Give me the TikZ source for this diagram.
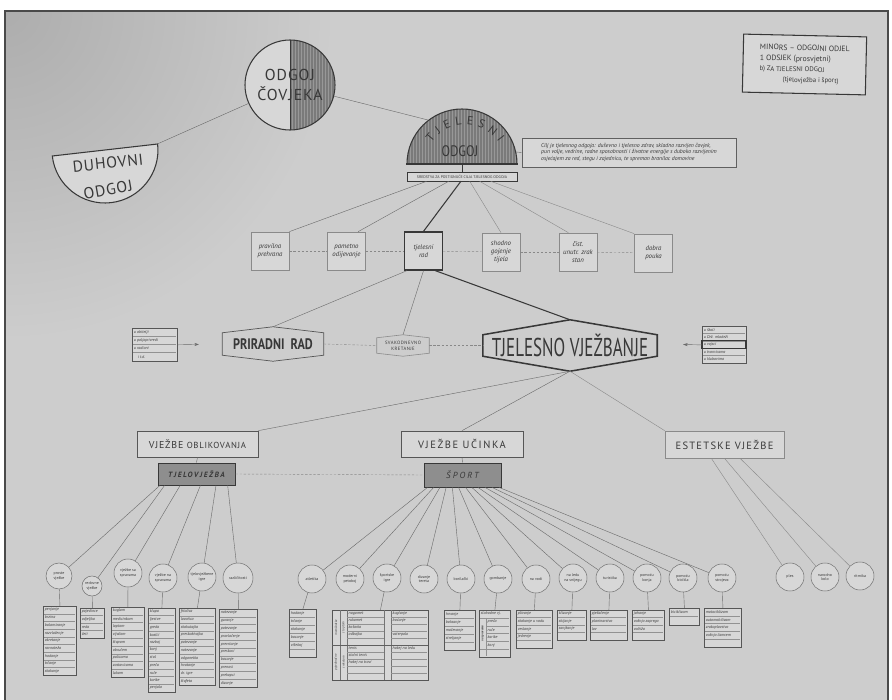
\documentclass[tikz,border=0pt]{standalone}
\usepackage{fontspec}
\setmainfont{PT Sans}
\usepackage{graphicx}
\usetikzlibrary{calc,arrows.meta,decorations.text}

\definecolor{bg}{HTML}{CDCDCD}
\definecolor{bgdark}{HTML}{ADADAD}
\definecolor{paper}{HTML}{D7D7D7}
\definecolor{ink}{HTML}{383838}
\definecolor{lightink}{HTML}{8A8A8A}
\definecolor{gfill}{HTML}{8E8E8E}
\definecolor{hfill}{HTML}{989898}
\definecolor{hatchc}{HTML}{7A7A7A}
\definecolor{framec}{HTML}{4A4A4A}

\newcommand{\pxu}{0.3mm}
\newcommand{\fsz}[2]{\fontsize{#1}{#2}\selectfont}
\newcommand{\hexpath}[3]{\draw[#3] ([yshift=-#2]#1.north west) -- (#1.north) -- ([yshift=-#2]#1.north east) -- ([yshift=#2]#1.south east) -- (#1.south) -- ([yshift=#2]#1.south west) -- cycle;}
\newcommand{\circn}[5]{\node[cnode, minimum size={2*#4*\pxu}] (#1) at (#2,#3) {#5};}
\newcommand{\listbx}[7]{%
  \node[lbx, anchor=north west, minimum width={#4*\pxu}, minimum height={#5*#6*\pxu}] (#1) at (#2,#3) {};
  \pgfmathtruncatemacro\lbn{#5-1}%
  \foreach \ri in {1,...,\lbn} {\draw[lrow] (#2+1,#3+\ri*#6) -- (#2+#4-1,#3+\ri*#6);}
  \foreach \itm [count=\ti] in {#7} {\node[ltx, anchor=west] (#1t\ti) at (#2+1.6,#3+\ti*#6-0.5*#6) {\itm};}
}

\tikzset{
  conn/.style={draw=ink!75, line width=0.35pt},
  connl/.style={draw=lightink, line width=0.35pt},
  thickconn/.style={draw=ink, line width=0.9pt},
  dashconn/.style={draw=ink!60, line width=0.35pt, dash pattern=on 2pt off 1.5pt},
  sbox/.style={draw=lightink, line width=0.6pt, fill=paper, minimum width={38*\pxu}, minimum height={38*\pxu}, inner sep=0, align=center, font=\itshape\fsz{5.8}{6.8}, text=ink},
  hexnode/.style={inner sep=0, text=ink},
  l3box/.style={draw=ink!85, line width=0.6pt, fill=paper, inner sep=0, minimum height={26*\pxu}, text=ink},
  gbox/.style={draw=ink, line width=0.8pt, fill=gfill, inner sep=0, text=ink},
  cnode/.style={circle, draw=ink!70, line width=0.45pt, fill=paper, inner sep=0, align=center, font=\fsz{3.4}{3.9}, text=ink},
  lbx/.style={draw=ink!85, line width=0.7pt, fill=paper, inner sep=0},
  ltx/.style={inner sep=0, font=\itshape\fsz{3.5}{4}, text=ink},
  lrow/.style={draw=ink!55, line width=0.25pt},
}

\begin{document}
\begin{tikzpicture}[x=0.3mm,y=-0.3mm]
\useasboundingbox (0,0) rectangle (892,700);
% photo background
\fill[white] (0,0) rectangle (892,700);
\fill[bg] (5,11) rectangle (888,700);
\begin{scope}
  \clip (5,11) rectangle (888,700);
  \shade[inner color=bgdark, outer color=bg] (5,11) circle [radius=330];
\end{scope}
\draw[framec, line width=1.4pt] (5,700) -- (5,11) -- (888,11) -- (888,700);

% ---------- ODGOJ COVJEKA ----------
\begin{scope}
  \clip (290,85) circle [radius=45];
  \fill[paper] (240,35) rectangle (290,135);
  \fill[hfill] (290,35) rectangle (340,135);
  \foreach \xx in {291.5,293,...,336} \draw[hatchc, line width=0.22pt] (\xx,35) -- (\xx,135);
\end{scope}
\draw[ink, line width=0.5pt] (290,40) -- (290,130);
\node[circle, draw=ink, line width=0.9pt, minimum size={90*\pxu}, inner sep=0, align=center, text=ink, font=\fsz{13.5}{17}\addfontfeature{LetterSpace=6}] (oc) at (290,85) {ODGOJ\\ČOVJEKA};

% ---------- DUHOVNI ODGOJ ----------
\draw[ink, line width=0.9pt, fill=paper] (52.3,156) arc[start angle=173.5, end angle=-6.5, radius=53] -- cycle;
\coordinate (dhr) at (157.3,144);
\node[text=ink, font=\fsz{13.5}{13.5}\addfontfeature{LetterSpace=5}, rotate=6, inner sep=0] (dh1) at (108,163) {DUHOVNI};
\node[text=ink, font=\fsz{13.5}{13.5}\addfontfeature{LetterSpace=5}, rotate=10, inner sep=0] (dh2) at (108,190) {ODGOJ};
\draw[conn] (dhr) -- (oc);

% ---------- TJELESNI ODGOJ ----------
\begin{scope}
  \clip (407,164) arc[start angle=180, end angle=360, radius=55] -- cycle;
  \fill[hfill] (405,105) rectangle (520,165);
  \foreach \xx in {408,409.5,...,517} \draw[hatchc, line width=0.22pt] (\xx,105) -- (\xx,165);
\end{scope}
\draw[ink, line width=0.9pt] (407,164) arc[start angle=180, end angle=360, radius=55];
\draw[ink, line width=1.4pt] (406,164) -- (518,164);
\path[decorate, decoration={text along path, text={|\fsz{10}{10}|TJELESNI}, text align={fit to path}, text color=ink}]
  (431.4,142.5) arc[start angle=-145, end angle=-35, radius=41];
\node[text=ink, font=\fsz{13}{13}, inner sep=0] (tjo) at (460,151) {\scalebox{0.82}[1]{ODGOJ}};
\coordinate (tjin) at (428,120);
\coordinate (tjs) at (462,164);
\coordinate (tjr) at (516,152);
\draw[conn] (oc) -- (tjin);

\node[draw=ink, line width=0.5pt, fill=paper, minimum width={110*\pxu}, minimum height={9*\pxu}, inner sep=0, text=ink, font=\fsz{3.3}{3.3}] (sr) at (462,176.5) {SREDSTVA ZA POSTIGNUĆE CILJA TJELESNOG ODGOJA};
\draw[ink, line width=0.8pt] (tjs) -- (sr.north);

\node[draw=ink!80, line width=0.5pt, fill=paper, minimum width={214*\pxu}, minimum height={29*\pxu}, inner sep=0, align=left, text=ink, font=\itshape\fsz{4.9}{5.6}] (cilj) at (629,152.5) {Cilj je tjelesnog odgoja: duševno i tjelesno zdrav, skladno razvijen čovjek,\\pun volje, vedrine, radne sposobnosti i životne energije s duboko razvijenim\\osjećajem za red, stegu i zajednicu, te spreman branilac domovine};
\draw[conn] (tjr) -- (cilj.west);

% ---------- MINORS box ----------
\node[draw=ink, line width=0.9pt, fill=paper, minimum width={123*\pxu}, minimum height={58*\pxu}, inner sep=0, rotate=-1.3, align=left, text=ink, font=\fsz{6.6}{9}] (mb) at (804.5,64.5) {MINORS – ODGOJNI ODJEL\\1 ODSJEK (prosvjetni)\\{\fsz{5.8}{9}b) ZA TJELESNI ODGOJ}\\{\fsz{5.8}{9}\hspace*{20pt}(tjelovježba i šport)}};

% ---------- six boxes ----------
\node[sbox] (b1) at (270,251) {pravilna\\prehrana};
\node[sbox] (b2) at (346.5,251) {pametno\\odijevanje};
\node[sbox, draw=ink, line width=1.1pt] (b3) at (423.5,251) {tjelesni\\rad};
\node[sbox] (b4) at (501,252) {shodno\\gojenje\\tijela};
\node[sbox] (b5) at (578,252) {čist.\\unutr. zrak\\stan};
\node[sbox] (b6) at (653.5,253) {dobra\\pouka};
\foreach \a/\b in {b1/b2,b2/b3,b3/b4,b4/b5,b5/b6} \draw[dashconn] (\a) -- (\b);
\draw[conn] ($(sr.south west)!0.18!(sr.south east)$) -- (b1.north east);
\draw[conn] ($(sr.south west)!0.38!(sr.south east)$) -- ($(b2.north)!0.6!(b2.north east)$);
\draw[thickconn] ($(sr.south west)!0.49!(sr.south east)$) -- (b3.north);
\draw[connl] ($(sr.south west)!0.57!(sr.south east)$) -- (b4.north);
\draw[connl] ($(sr.south west)!0.66!(sr.south east)$) -- ($(b5.north west)!0.25!(b5.north east)$);
\draw[connl] ($(sr.south west)!0.76!(sr.south east)$) -- (b6.north west);

% ---------- middle row ----------
\listbx{ll}{132}{328}{45}{4}{8.2}{u obitelji,u poljoprivredi,u radioni,\quad i t.d.}
\coordinate (al) at (199,344.4);
\draw[conn, -{Stealth[length=1.4mm,width=0.9mm]}] (ll.east) -- (al);

\node[hexnode, minimum width={101*\pxu}, minimum height={34*\pxu}, font=\bfseries\fsz{13}{13}] (pr) at (273,344) {\scalebox{0.8}[1]{PRIRADNI\hspace{0.5em}RAD}};
\hexpath{pr}{1.8mm}{draw=ink!85, line width=0.6pt}
\node[hexnode, minimum width={52*\pxu}, minimum height={21*\pxu}, align=center, font=\fsz{4}{5}\addfontfeature{LetterSpace=10}] (sk) at (403,345.5) {SVAKODNEVNO\\KRETANJE};
\hexpath{sk}{0.9mm}{draw=lightink, line width=0.5pt}
\node[hexnode, minimum width={174*\pxu}, minimum height={51*\pxu}, font=\fsz{22}{22}] (tv) at (570,345.5) {\scalebox{0.66}[1]{TJELESNO VJEŽBANJE}};
\hexpath{tv}{4.5mm}{draw=ink, line width=1.3pt}
\draw[dashconn] (pr.east) -- (sk.west);
\draw[dashconn] (sk.east) -- (tv.west);

\listbx{rl}{702}{326}{44}{5}{7.4}{u školi,u Drž. mladeži,u vojsci,u tvornicama,u klubovima}
\draw[ink, line width=0.9pt] (702,340.8) rectangle (746,348.2);
\coordinate (ar) at (683,344.5);
\draw[conn, -{Stealth[length=1.4mm,width=0.9mm]}] (rl.west) -- (ar);

\draw[conn] ($(b3.south west)!0.08!(b3.south east)$) -- (pr.north);
\draw[conn] (b3.south) -- (sk.north);
\draw[thickconn] ($(b3.south west)!0.8!(b3.south east)$) -- (tv.north);

% ---------- level 3 ----------
\node[l3box, minimum width={121*\pxu}, font=\fsz{8.5}{9}\addfontfeature{LetterSpace=8}] (vo) at (197.5,444) {VJEŽBE {\fsz{7.5}{9}OBLIKOVANJA}};
\node[l3box, minimum width={122*\pxu}, font=\fsz{9}{9}\addfontfeature{LetterSpace=15}] (vu) at (462,444) {VJEŽBE UČINKA};
\node[l3box, draw=lightink, minimum width={119*\pxu}, minimum height={27*\pxu}, font=\fsz{9}{9}\addfontfeature{LetterSpace=12}] (ev) at (724.5,444.5) {ESTETSKE VJEŽBE};
\node[gbox, minimum width={77*\pxu}, minimum height={22*\pxu}, font=\bfseries\itshape\fsz{6.5}{7}\addfontfeature{LetterSpace=20}] (tj) at (196.5,474) {TJELOVJEŽBA};
\node[gbox, minimum width={77*\pxu}, minimum height={24*\pxu}, font=\itshape\fsz{7.5}{8}\addfontfeature{LetterSpace=25}] (sp) at (462.5,475) {ŠPORT};
\draw[conn] (tv.south) -- (vo.north east);
\draw[conn] (tv.south) -- (vu.north);
\draw[connl] (tv.south) -- (ev.north west);
\draw[conn] (vo.south) -- (tj.north);
\draw[conn] (vu.south) -- (sp.north);
\draw[dashconn] (tj.east) -- (sp.west);

% ---------- circles ----------
\circn{ca}{59}{576}{13}{proste\\vježbe}
\circn{cb}{92}{586}{10}{redovne\\vježbe}
\circn{cc}{128}{573}{14}{vježbe sa\\spravama}
\circn{cd}{163}{578}{14}{vježbe na\\spravama}
\circn{ce}{202}{577}{14}{tjelovježbene\\igre}
\circn{cf}{238}{578}{15}{različitosti}
\circn{cg}{312}{579}{14}{atletika}
\circn{ch}{350}{579}{14}{moderni\\petoboj}
\circn{ci}{387}{578}{14}{športske\\igre}
\circn{cj}{424}{579}{14}{dizanje\\tereta}
\circn{ck}{461}{579}{14}{borilački}
\circn{cl}{498}{579}{14}{gombanje}
\circn{cm}{536}{579}{14}{na vodi}
\circn{cn}{573}{578}{14}{na ledu\\na snijegu}
\circn{co}{610}{578}{14}{turistika}
\circn{cp}{647}{578}{14}{pomoću\\konja}
\circn{cq}{683}{578}{14}{pomoću\\bicikla}
\circn{cr}{722}{578}{14}{pomoću\\strojeva}
\circn{cs}{790}{577}{14}{ples}
\circn{ct}{825}{577}{14}{narodno\\kolo}
\circn{cu}{860}{576}{14}{ritmika}

\foreach \c/\f in {ca/0.03,cb/0.09,cc/0.29,cd/0.55,ce/0.75,cf/0.9}
  \draw[conn] ($(tj.south west)!\f!(tj.south east)$) -- (\c);
\foreach \c/\f in {cg/0.05,ch/0.13,ci/0.21,cj/0.29,ck/0.37,cl/0.45,cm/0.54,cn/0.62,co/0.70,cp/0.79,cq/0.88,cr/0.97}
  \draw[conn] ($(sp.south west)!\f!(sp.south east)$) -- (\c);
\foreach \c/\f in {cs/0.39,ct/0.5,cu/0.63}
  \draw[connl] ($(ev.south west)!\f!(ev.south east)$) -- (\c);

% ---------- lists ----------
\listbx{la}{43}{606}{33}{9}{7.7}{penjanje,brzina,balansiranje,razvlačenje,okretanje,ravnoteža,hodanje,trčanje,skakanje}
\listbx{lb}{80}{608}{24}{4}{7.5}{pojedince,odjeljka,reda,četi}
\listbx{lc}{111}{607}{33}{9}{7.8}{kuglom,medicinkom,loptom,vijačom,štapom,obručem,palicama,zastavicama,lukom}
\listbx{ld}{148}{608}{27}{11}{7.6}{klupa,ljestve,greda,kozlić,razboj,konj,stol,preča,ruče,karike,penjalo}
\listbx{le}{179}{608}{36}{10}{7.7}{frtalica,lovatica,skakutajka,preskakivajka,potezanje,natezanje,odgonetka,hvatanje,dr. igre,štafeta}
\listbx{lf}{219}{609}{38}{10}{7.8}{natezanje,guranje,potezanje,provlačenje,prevrtanje,preskoci,bacanje,prenosi,prekopci,dizanje}
\listbx{lg}{289}{609}{27}{6}{8}{hodanje,trčanje,skakanje,bacanje,višeboj}
\listbx{lk}{444}{610}{31}{5}{8}{hrvanje,boksanje,mačevanje,streljanje}
\listbx{lm}{516}{610}{36}{5}{7.6}{plivanje,skakanje u vodu,veslanje,jedrenje}
\listbx{ln}{557}{610}{29}{4}{7.5}{klizanje,skijanje,sanjkanje}
\listbx{lo}{590}{610}{37}{4}{7.5}{pješačenje,planinarstvo,lov}
\listbx{lp}{632}{610}{32}{4}{7.5}{jahanje,vožnja zaprega,voltiža}
\listbx{lq}{669}{608}{30}{2}{8.5}{biciklizam}
\listbx{lr}{704}{608}{37}{5}{7.8}{motociklizam,automobilizam,zrakoplovstvo,vožnja čamcem}

% športske igre table
\node[lbx, anchor=north west, minimum width={96*\pxu}, minimum height={70*\pxu}] (li) at (332,610) {};
\foreach \xx in {340,347,384,391} \draw[lrow, draw=ink!70] (\xx,610) -- (\xx,680);
\foreach \k in {1,2,3,4,6,7,8,9} {
  \draw[lrow] (347,610+7*\k) -- (384,610+7*\k);
  \draw[lrow] (391,610+7*\k) -- (427,610+7*\k);
}
\draw[ink!80, line width=0.5pt] (332,645) -- (428,645);
\foreach \k/\itm in {1/nogomet,2/rukomet,3/košarka,4/odbojka,6/tenis,7/stolni tenis,8/hokej na travi}
  \node[ltx, anchor=west] (lit\k) at (348.5,610+7*\k-3.5) {\itm};
\foreach \k/\itm in {1/kuglanje,2/boćanje,4/vaterpolo,6/hokej na ledu}
  \node[ltx, anchor=west] (lir\k) at (392.5,610+7*\k-3.5) {\itm};
\node[ltx, font=\itshape\fsz{2.8}{3}, rotate=90] (liv1) at (336,627.5) {momčadske};
\node[ltx, font=\itshape\fsz{2.8}{3}, rotate=90] (liv2) at (336,662.5) {pojedinačne};
\node[ltx, font=\itshape\fsz{2.8}{3}, rotate=90] (liv3) at (343.5,627.5) {s loptom};
\node[ltx, font=\itshape\fsz{2.8}{3}, rotate=90] (liv4) at (343.5,662.5) {s reketom};

% gombanje list
\node[lbx, anchor=north west, minimum width={31*\pxu}, minimum height={47*\pxu}] (lgo) at (479,610) {};
\draw[lrow] (480,617.8) -- (509,617.8);
\foreach \k in {2,3,4} \draw[lrow] (486,610+7.83*\k) -- (509,610+7.83*\k);
\draw[lrow] (480,649.2) -- (509,649.2);
\draw[lrow] (486,617.8) -- (486,656);
\node[ltx, anchor=west] (lgo0) at (480.6,613.9) {slobodne vj.};
\node[ltx, rotate=90, font=\bfseries\itshape\fsz{2.6}{3}] (lgov) at (482.8,633.5) {na spravama};
\foreach \k/\itm in {2/preča,3/ruče,4/karike,5/konj}
  \node[ltx, anchor=west] (lgo\k) at (487.5,610+7.83*\k-3.9) {\itm};

% stems
\foreach \c/\l in {ca/la,cb/lb,cc/lc,cd/ld,ce/le,cf/lf,cg/lg,ci/li,ck/lk,cl/lgo,cm/lm,cn/ln,co/lo,cp/lp,cq/lq,cr/lr}
  \draw[conn] (\c) -- (\l.north);
\end{tikzpicture}
\end{document}
